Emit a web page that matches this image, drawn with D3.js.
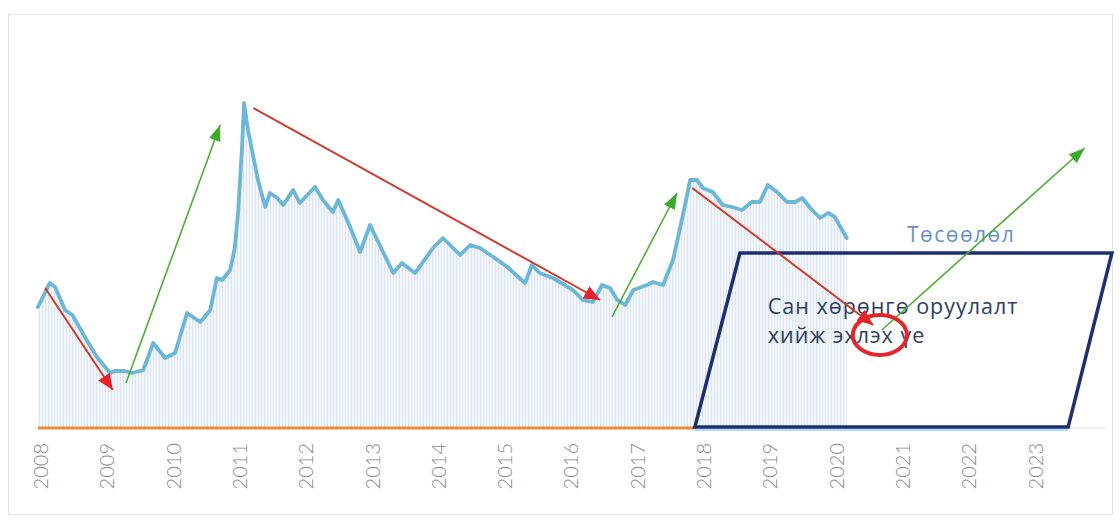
<!DOCTYPE html>
<html><head><meta charset="utf-8">
<script src="https://cdn.jsdelivr.net/npm/d3@7"></script>
<style>html,body{margin:0;padding:0;background:#fff;}svg{display:block;}</style>
</head><body>
<svg id="c" width="1120" height="529"></svg>
<script>
// Data (decimal year, index value)
const years = [2007.96,2008.14,2008.22,2008.37,2008.48,2008.67,2008.85,2009.05,2009.12,2009.27,2009.38,2009.55,2009.70,2009.88,2010.03,2010.21,2010.41,2010.56,2010.66,2010.74,2010.86,2010.93,2010.98,2011.04,2011.07,2011.13,2011.28,2011.39,2011.46,2011.57,2011.66,2011.81,2011.91,2012.14,2012.26,2012.41,2012.49,2012.67,2012.82,2012.97,2013.32,2013.45,2013.65,2013.92,2014.07,2014.33,2014.48,2014.63,2014.83,2015.04,2015.31,2015.41,2015.53,2015.73,2016.03,2016.18,2016.33,2016.47,2016.59,2016.70,2016.82,2016.94,2017.15,2017.24,2017.39,2017.54,2017.68,2017.80,2017.90,2017.99,2018.14,2018.29,2018.43,2018.58,2018.73,2018.85,2018.97,2019.11,2019.26,2019.38,2019.49,2019.61,2019.76,2019.88,2019.98,2020.16];
const values = [121,145,141,118,113,91,71,55,57,57,55,58,85,70,75,115,106,118,150,148,158,180,215,281,325,298,248,221,235,230,223,238,225,241,228,216,228,201,176,203,155,165,155,180,190,173,183,180,171,161,145,163,155,150,138,128,126,143,140,128,123,138,143,146,143,168,210,248,248,240,236,223,221,218,226,226,243,236,226,226,230,220,210,215,211,190];
const tickYears = [2008,2009,2010,2011,2012,2013,2014,2015,2016,2017,2018,2019,2020,2021,2022,2023];
// Trend arrows [x0, y0, x1, y1] in (year, value)
const redArrows = [[2008.07,140,2009.09,38],[2011.21,320,2016.44,128],[2017.83,240,2020.56,103]];
const greenArrows = [[2009.29,45,2010.71,303],[2016.62,111,2017.60,235],[2020.69,98,2023.75,280]];
const forecastBox = [[2018.55,175],[2024.16,175],[2023.50,1],[2017.87,1]];
const circleCenter = [2020.66,93];
const forecastLabel = "Төсөөлөл";
const noteLines = ["Сан хөрөнгө оруулалт","хийж эхлэх үе"];

const svg = d3.select("#c");
const x = d3.scaleLinear().domain([2008, 2023]).range([40.5, 1035]);
const y = d3.scaleLinear().domain([0, 340]).range([428, 88]);
const baseY = y(0);

// frame
svg.append("rect").attr("x",8.5).attr("y",14.5).attr("width",1104).attr("height",500)
  .attr("fill","#fff").attr("stroke","#e4e4e4").attr("stroke-width",1);

// pattern fill
const defs = svg.append("defs");
const pat = defs.append("pattern").attr("id","hatch").attr("patternUnits","userSpaceOnUse")
  .attr("width",3).attr("height",3);
pat.append("rect").attr("width",3).attr("height",3).attr("fill","#f3f6fa");
pat.append("rect").attr("x",0).attr("width",1).attr("height",3).attr("fill","#dbe5ef");

function marker(id, color, len, wid){
  defs.append("marker").attr("id",id).attr("markerUnits","userSpaceOnUse")
    .attr("viewBox",`0 0 ${len} ${wid}`).attr("refX",len).attr("refY",wid/2)
    .attr("markerWidth",len).attr("markerHeight",wid).attr("orient","auto")
    .append("path").attr("d",`M0,0L${len},${wid/2}L0,${wid}Z`).attr("fill",color);
}
marker("redHead","#e8202a",16,14);
marker("greenHead","#3daa2a",16,12);

const data = years.map((d,i)=>({t:d,v:values[i]}));
svg.append("path").datum(data)
  .attr("d", d3.area().x(d=>x(d.t)).y0(baseY).y1(d=>y(d.v)))
  .attr("fill","url(#hatch)");

// baseline
svg.append("line").attr("x1",x(2017.87)).attr("x2",1105).attr("y1",baseY).attr("y2",baseY)
  .attr("stroke","#e0e0e0").attr("stroke-width",1);
svg.append("line").attr("x1",x(2017.87)).attr("x2",x(2023.5)).attr("y1",baseY+2).attr("y2",baseY+2)
  .attr("stroke","#8fd3ee").attr("stroke-width",1.5);
svg.append("line").attr("x1",x(2007.96)).attr("x2",x(2017.87)).attr("y1",baseY).attr("y2",baseY)
  .attr("stroke","#f08a3a").attr("stroke-width",3);

// main line
svg.append("path").datum(data)
  .attr("d", d3.line().x(d=>x(d.t)).y(d=>y(d.v)))
  .attr("fill","none").attr("stroke","#6cb6d8").attr("stroke-width",3.8)
  .attr("stroke-linejoin","round").attr("stroke-linecap","round");

// forecast box
svg.append("path").datum(forecastBox)
  .attr("d", d3.line().x(d=>x(d[0])).y(d=>y(d[1])).curve(d3.curveLinearClosed))
  .attr("fill","none").attr("stroke","#1d2f70").attr("stroke-width",3.5).attr("stroke-linejoin","miter");

// axis labels
const ax = svg.append("g").attr("transform",`translate(0,${baseY+15})`)
  .call(d3.axisBottom(x).tickValues(tickYears).tickFormat(d3.format("d")).tickSize(0).tickPadding(0));
ax.select(".domain").remove();
ax.selectAll("text").attr("transform","rotate(-90)").attr("text-anchor","end")
  .attr("dy","0.35em").attr("dx","0").attr("x",0).attr("y",0)
  .attr("fill","#8a8a8a").style("font-family","Lato, 'Open Sans', sans-serif")
  .style("font-weight","300").style("font-size","20px");

// texts
svg.append("text").attr("x",x(2021.07)).attr("y",y(186)).text(forecastLabel)
  .attr("fill","#6b8fc9").style("font-family","'Open Sans', sans-serif").style("font-size","21px")
  .style("letter-spacing","1.5px");
noteLines.forEach((s,i)=>{
  svg.append("text").attr("x",x(2018.97)).attr("y",y(i===0?114:85)).text(s)
    .attr("fill","#2f3d60").style("font-family","'Open Sans', sans-serif").style("font-size","21.5px")
    .style("letter-spacing","1px");
});

// arrows
redArrows.forEach(a=>{
  svg.append("line").attr("x1",x(a[0])).attr("y1",y(a[1])).attr("x2",x(a[2])).attr("y2",y(a[3]))
    .attr("stroke","#cf3a2c").attr("stroke-width",2).attr("marker-end","url(#redHead)");
});
greenArrows.forEach(a=>{
  svg.append("line").attr("x1",x(a[0])).attr("y1",y(a[1])).attr("x2",x(a[2])).attr("y2",y(a[3]))
    .attr("stroke","#4caf30").attr("stroke-width",1.6).attr("marker-end","url(#greenHead)");
});

// circle
svg.append("ellipse").attr("cx",x(circleCenter[0])).attr("cy",y(circleCenter[1]))
  .attr("rx",27).attr("ry",20).attr("fill","none").attr("stroke","#e3262b").attr("stroke-width",4);
</script>
</body></html>
